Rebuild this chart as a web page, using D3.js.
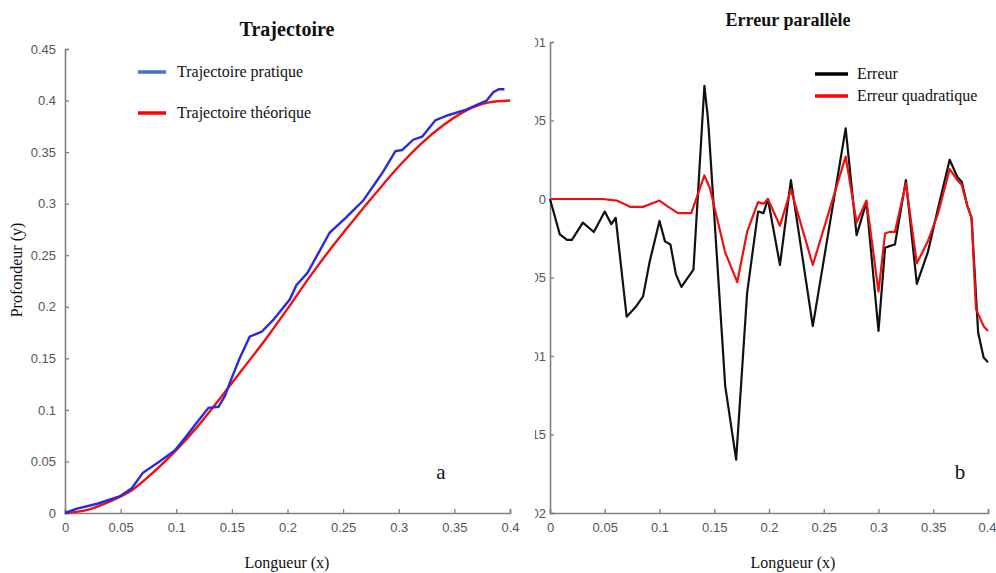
<!DOCTYPE html>
<html>
<head>
<meta charset="utf-8">
<script src="https://cdn.jsdelivr.net/npm/d3@7"></script>
<style>
  body { margin: 0; background: #fff; }
  svg { display: block; }
  .tick text { font-family: "Liberation Sans Narrow", "Liberation Sans", Arial, sans-serif; fill: #555; }
  .serif { font-family: "Liberation Serif", "Times New Roman", serif; fill: #111; }
</style>
</head>
<body>
<div id="chart"></div>
<script>
// ---- data ----
var trajTicksX = [0, 0.05, 0.1, 0.15, 0.2, 0.25, 0.3, 0.35, 0.4];
var trajTicksY = [0, 0.05, 0.1, 0.15, 0.2, 0.25, 0.3, 0.35, 0.4, 0.45];

// Trajectoire pratique
var pratX = [0, 0.01, 0.029, 0.049, 0.06, 0.07, 0.085, 0.099, 0.108, 0.118, 0.129, 0.138, 0.144, 0.148,
             0.157, 0.166, 0.177, 0.187, 0.202, 0.208, 0.218, 0.238, 0.253, 0.268, 0.279, 0.286, 0.297,
             0.303, 0.313, 0.321, 0.333, 0.345, 0.36, 0.379, 0.385, 0.39, 0.395];
var pratY = [0, 0.004, 0.009, 0.016, 0.024, 0.039, 0.05, 0.061, 0.073, 0.087, 0.102, 0.103, 0.114, 0.126,
             0.15, 0.171, 0.176, 0.187, 0.207, 0.221, 0.233, 0.272, 0.287, 0.303, 0.32, 0.331, 0.351,
             0.352, 0.362, 0.365, 0.381, 0.386, 0.391, 0.40, 0.408, 0.411, 0.411];

// Trajectoire théorique
var theoX = [0, 0.02, 0.04, 0.06, 0.08, 0.1, 0.12, 0.14, 0.16, 0.18, 0.2, 0.22, 0.24, 0.26, 0.28, 0.3,
             0.32, 0.34, 0.36, 0.38, 0.4];
var theoY = [0, 0.003, 0.011, 0.022, 0.040, 0.061, 0.085, 0.112, 0.140, 0.168, 0.198, 0.229, 0.258,
             0.285, 0.311, 0.336, 0.358, 0.376, 0.390, 0.398, 0.400];

var errTicksX = [0, 0.05, 0.1, 0.15, 0.2, 0.25, 0.3, 0.35, 0.4];
var errTicksY = [0.01, 0.005, 0, -0.005, -0.01, -0.015, -0.02];

// Erreur
var errX = [0, 0.009, 0.0155, 0.02, 0.03, 0.04, 0.05, 0.056, 0.06, 0.07, 0.078, 0.085, 0.091, 0.1, 0.105,
            0.11, 0.115, 0.12, 0.131, 0.141, 0.144, 0.145, 0.16, 0.17, 0.18, 0.19, 0.195, 0.199, 0.21,
            0.22, 0.24, 0.27, 0.28, 0.289, 0.3, 0.306, 0.31, 0.315, 0.325, 0.335, 0.345, 0.354, 0.365,
            0.372, 0.376, 0.381, 0.385, 0.391, 0.396, 0.4];
var errY = [0, -0.00226, -0.0026, -0.0026, -0.0015, -0.0021, -0.0008, -0.0016, -0.0012, -0.0075, -0.0069,
            -0.0062, -0.0040, -0.0014, -0.0027, -0.0029, -0.0048, -0.0056, -0.0045, 0.0072, 0.0053, 0.0044,
            -0.0119, -0.0166, -0.0060, -0.0008, -0.0009, 0, -0.0042, 0.0012, -0.0081, 0.0045, -0.0023,
            -0.0002, -0.0084, -0.0031, -0.0030, -0.0029, 0.0012, -0.0054, -0.0034, -0.0007, 0.0025, 0.0014,
            0.0011, -0.0004, -0.0012, -0.0085, -0.0101, -0.0104];

// Erreur quadratique
var quadX = [0, 0.034, 0.048, 0.061, 0.073, 0.085, 0.1, 0.108, 0.117, 0.129, 0.141, 0.146, 0.16, 0.171,
             0.18, 0.19, 0.195, 0.199, 0.21, 0.22, 0.24, 0.27, 0.28, 0.289, 0.3, 0.306, 0.31, 0.315, 0.325,
             0.335, 0.345, 0.354, 0.365, 0.372, 0.376, 0.381, 0.385, 0.389, 0.396, 0.4];
var quadY = [0, 0, 0, -0.0001, -0.0005, -0.0005, -0.0001, -0.0005, -0.0009, -0.0009, 0.0015, 0.0007,
             -0.0034, -0.0053, -0.0021, -0.0002, -0.0003, 0, -0.0017, 0.0006, -0.0042, 0.0027, -0.0015,
             -0.0001, -0.0059, -0.0022, -0.0021, -0.0021, 0.0010, -0.0041, -0.0027, -0.0010, 0.0019, 0.0012,
             0.0009, -0.0004, -0.0012, -0.0070, -0.0081, -0.0084];

// ---- drawing ----
var W = 996, H = 573;
var svg = d3.select("#chart").append("svg").attr("width", W).attr("height", H);

function zip(xs, ys) { return xs.map(function(x, i) { return [x, ys[i]]; }); }

function styleAxis(g) {
  g.selectAll(".domain").attr("stroke", "#808080").attr("stroke-width", 1.6);
  g.selectAll(".tick line").attr("stroke", "#808080").attr("stroke-width", 1.3);
  g.selectAll(".tick text").attr("font-size", 13);
}

function fmt(d) { return d === 0 ? "0" : d3.format("~g")(d); }

// Left panel : Trajectoire
var x1 = d3.scaleLinear().domain([0, 0.4]).range([65, 510]);
var y1 = d3.scaleLinear().domain([0, 0.45]).range([513, 49]);

svg.append("g").attr("transform", "translate(0,513)")
  .call(d3.axisBottom(x1).tickValues(trajTicksX).tickSize(-4).tickPadding(10).tickFormat(fmt))
  .call(styleAxis);
svg.append("g").attr("transform", "translate(65,0)")
  .call(d3.axisLeft(y1).tickValues(trajTicksY).tickSize(-4).tickPadding(9).tickFormat(fmt))
  .call(styleAxis);

var line1 = d3.line().x(function(d) { return x1(d[0]); }).y(function(d) { return y1(d[1]); });
svg.append("path").datum(zip(theoX, theoY))
  .attr("d", line1.curve(d3.curveMonotoneX)).attr("fill", "none")
  .attr("stroke", "#f01010").attr("stroke-width", 2.4);
svg.append("path").datum(zip(pratX, pratY))
  .attr("d", d3.line().x(function(d) { return x1(d[0]); }).y(function(d) { return y1(d[1]); }))
  .attr("fill", "none").attr("stroke", "#2a2ae0").attr("stroke-width", 2.4);

svg.append("text").attr("class", "serif").attr("x", 287).attr("y", 36)
  .attr("text-anchor", "middle").attr("font-size", 20).attr("font-weight", "bold").text("Trajectoire");

var leg1 = [["Trajectoire pratique", "#4472c4", 72], ["Trajectoire théorique", "#ff0000", 113]];
leg1.forEach(function(l) {
  svg.append("line").attr("x1", 138).attr("x2", 166).attr("y1", l[2]).attr("y2", l[2])
    .attr("stroke", l[1]).attr("stroke-width", 3.5);
  svg.append("text").attr("class", "serif").attr("x", 177).attr("y", l[2] + 5)
    .attr("font-size", 16).text(l[0]);
});

svg.append("text").attr("class", "serif").attr("transform", "translate(22,270) rotate(-90)")
  .attr("text-anchor", "middle").attr("font-size", 16).text("Profondeur (y)");
svg.append("text").attr("class", "serif").attr("x", 287).attr("y", 568)
  .attr("text-anchor", "middle").attr("font-size", 16).text("Longueur (x)");
svg.append("text").attr("class", "serif").attr("x", 441).attr("y", 479)
  .attr("text-anchor", "middle").attr("font-size", 21).text("a");

// Right panel : Erreur parallèle
var x2 = d3.scaleLinear().domain([0, 0.4]).range([550, 988]);
var y2 = d3.scaleLinear().domain([-0.02, 0.01]).range([513, 42]);

// the reference image cuts the left part of these labels off
svg.append("defs").append("clipPath").attr("id", "cutLabels")
  .append("rect").attr("x", 535).attr("y", 0).attr("width", 460).attr("height", H);

var xAxis2 = svg.append("g").attr("transform", "translate(0,513)")
  .call(d3.axisBottom(x2).tickValues(errTicksX).tickSize(-4).tickPadding(10).tickFormat(fmt))
  .call(styleAxis);
// keep the last label inside the page
xAxis2.selectAll(".tick text").filter(function(d) { return d === 0.4; }).attr("text-anchor", "end").attr("dx", 8);

svg.append("g").attr("clip-path", "url(#cutLabels)")
  .append("g").attr("transform", "translate(550,0)")
  .call(d3.axisLeft(y2).tickValues(errTicksY).tickSize(-4).tickPadding(4).tickFormat(fmt))
  .call(styleAxis);

var line2 = d3.line().x(function(d) { return x2(d[0]); }).y(function(d) { return y2(d[1]); });
svg.append("path").datum(zip(errX, errY)).attr("d", line2).attr("fill", "none")
  .attr("stroke", "#111").attr("stroke-width", 2.2).attr("stroke-linejoin", "round");
svg.append("path").datum(zip(quadX, quadY)).attr("d", line2).attr("fill", "none")
  .attr("stroke", "#ee1111").attr("stroke-width", 2.2).attr("stroke-linejoin", "round");

svg.append("text").attr("class", "serif").attr("x", 788).attr("y", 26)
  .attr("text-anchor", "middle").attr("font-size", 18).attr("font-weight", "bold").text("Erreur parallèle");

var leg2 = [["Erreur", "#000", 74], ["Erreur quadratique", "#ff0000", 96]];
leg2.forEach(function(l) {
  svg.append("line").attr("x1", 815).attr("x2", 848).attr("y1", l[2]).attr("y2", l[2])
    .attr("stroke", l[1]).attr("stroke-width", 3.5);
  svg.append("text").attr("class", "serif").attr("x", 857).attr("y", l[2] + 5)
    .attr("font-size", 16).text(l[0]);
});

svg.append("text").attr("class", "serif").attr("x", 793).attr("y", 568)
  .attr("text-anchor", "middle").attr("font-size", 16).text("Longueur (x)");
svg.append("text").attr("class", "serif").attr("x", 960).attr("y", 479)
  .attr("text-anchor", "middle").attr("font-size", 21).text("b");
</script>
</body>
</html>
